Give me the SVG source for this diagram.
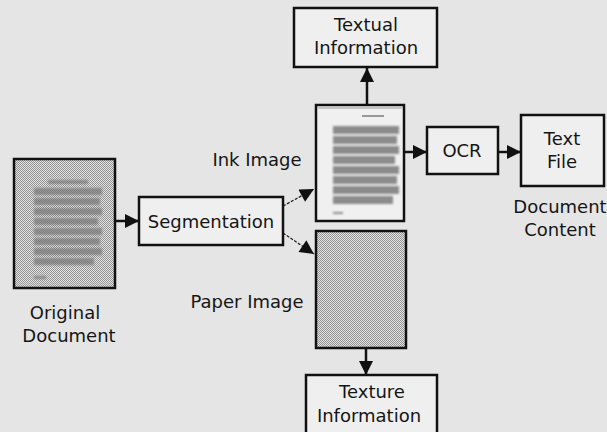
<svg xmlns="http://www.w3.org/2000/svg" width="607" height="432" viewBox="0 0 607 432">
  <defs>
    <!-- dithered greys -->
    <pattern id="dither" width="2" height="2" patternUnits="userSpaceOnUse">
      <rect width="2" height="2" fill="#e2e2e2"/>
      <rect width="1" height="1" fill="#949494"/>
      <rect x="1" y="1" width="1" height="1" fill="#949494"/>
    </pattern>
    <filter id="soft" x="-5%" y="-5%" width="110%" height="110%">
      <feGaussianBlur stdDeviation="0.8"/>
    </filter>
    <marker id="head" viewBox="0 0 14 14" refX="14" refY="7" markerWidth="15" markerHeight="14" markerUnits="userSpaceOnUse" orient="auto">
      <path d="M0,0 L14,7 L0,14 Z" fill="#111"/>
    </marker>
    <style>
      .box { fill: #efefef; stroke: #111; stroke-width: 2.5; }
      .lbl { font-family: "DejaVu Sans", Verdana, sans-serif; font-size: 18px; fill: #151515; text-anchor: middle; }
      .arrow { stroke: #111; stroke-width: 2.5; fill: none; marker-end: url(#head); }
      .thin { stroke: #222; stroke-width: 1.3; stroke-dasharray: 3 1.5; fill: none; marker-end: url(#head); }
    </style>
  </defs>

  <rect width="607" height="432" fill="#e5e5e5"/>

  <!-- connectors -->
  <g id="connectors">
    <line class="arrow" x1="115" y1="221" x2="139" y2="221"/>
    <line class="thin" x1="283" y1="206" x2="314" y2="189"/>
    <line class="thin" x1="283" y1="233" x2="314" y2="254"/>
    <line class="arrow" x1="367" y1="105" x2="367" y2="68"/>
    <line class="arrow" x1="404" y1="152" x2="427" y2="152"/>
    <line class="arrow" x1="498" y1="152" x2="521" y2="152"/>
    <line class="arrow" x1="366" y1="348" x2="366" y2="375"/>
  </g>

  <g id="original-document">
    <rect x="14" y="159" width="101" height="129" fill="url(#dither)" stroke="#111" stroke-width="2.5"/>
    <!-- blurred text lines on the page -->
    <g fill="#7a7a7a" opacity="0.75" filter="url(#soft)">
      <rect x="48" y="180" width="40" height="4"/>
      <rect x="34" y="188" width="68" height="7"/>
      <rect x="34" y="198" width="66" height="7"/>
      <rect x="34" y="208" width="68" height="7"/>
      <rect x="34" y="218" width="64" height="7"/>
      <rect x="34" y="228" width="68" height="7"/>
      <rect x="34" y="238" width="66" height="7"/>
      <rect x="34" y="248" width="68" height="7"/>
      <rect x="34" y="258" width="60" height="7"/>
      <rect x="34" y="276" width="12" height="3"/>
    </g>
    <text class="lbl" x="65" y="319">Original</text>
    <text class="lbl" x="69" y="342">Document</text>
  </g>

  <g id="segmentation">
    <rect class="box" x="139" y="197" width="144" height="48"/>
    <text class="lbl" x="211" y="228">Segmentation</text>
  </g>

  <g id="ink-image">
    <rect x="316" y="105" width="88" height="116" fill="#f0f0f0" stroke="#111" stroke-width="2.5"/>
    <rect x="318" y="107" width="84" height="2" fill="#aaa" opacity="0.6"/>
    <rect x="362" y="115" width="22" height="2" fill="#999"/>
    <g fill="#8c8c8c" filter="url(#soft)">
      <rect x="333" y="126" width="66" height="8"/>
      <rect x="333" y="136" width="64" height="8"/>
      <rect x="333" y="146" width="66" height="8"/>
      <rect x="333" y="156" width="62" height="8"/>
      <rect x="333" y="166" width="66" height="8"/>
      <rect x="333" y="176" width="64" height="8"/>
      <rect x="333" y="186" width="66" height="8"/>
      <rect x="333" y="196" width="60" height="8"/>
      <rect x="333" y="212" width="10" height="2"/>
    </g>
    <text class="lbl" x="257" y="166">Ink Image</text>
  </g>

  <g id="paper-image">
    <rect x="316" y="231" width="90" height="117" fill="url(#dither)" stroke="#111" stroke-width="2.5"/>
    <text class="lbl" x="247" y="308">Paper Image</text>
  </g>

  <g id="textual-information">
    <rect class="box" x="294" y="8" width="143" height="59"/>
    <text class="lbl" x="366" y="31">Textual</text>
    <text class="lbl" x="366" y="54">Information</text>
  </g>

  <g id="texture-information">
    <rect class="box" x="306" y="375" width="131" height="62"/>
    <text class="lbl" x="372" y="398">Texture</text>
    <text class="lbl" x="369" y="422">Information</text>
  </g>

  <g id="ocr">
    <rect class="box" x="427" y="127" width="71" height="47"/>
    <text class="lbl" x="462" y="157">OCR</text>
  </g>

  <g id="text-file">
    <rect class="box" x="521" y="115" width="83" height="71"/>
    <text class="lbl" x="562" y="145">Text</text>
    <text class="lbl" x="562" y="168">File</text>
    <text class="lbl" x="560" y="213">Document</text>
    <text class="lbl" x="560" y="236">Content</text>
  </g>
</svg>
